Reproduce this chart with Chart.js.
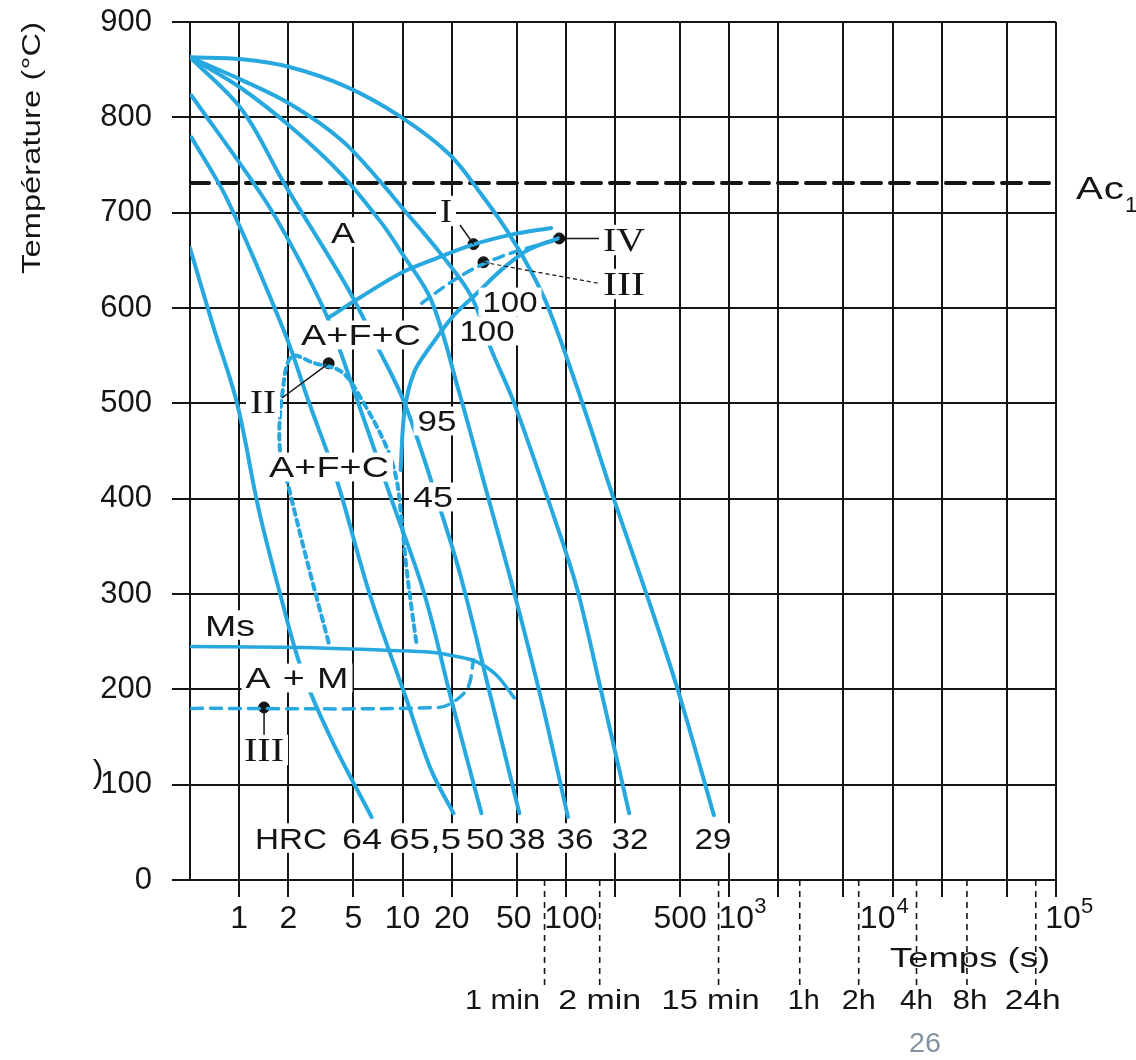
<!DOCTYPE html>
<html>
<head>
<meta charset="utf-8">
<title>Diagramme TRC</title>
<script src="https://cdn.jsdelivr.net/npm/chart.js@4.4.1/dist/chart.umd.min.js"></script>
<style>
  html, body { margin: 0; padding: 0; background: #fff; }
  canvas { display: block; }
</style>
</head>
<body>
<canvas id="trcChart" width="1136" height="1060"></canvas>
<script>
// Diagramme TRC - courbes de refroidissement, temps (s) en échelle log

const BLUE = '#27a8df';
const INK = '#151515';
const SANS = '"Liberation Sans", Arial, sans-serif';
const SERIF = '"Liberation Serif", "Times New Roman", serif';

// lignes verticales de la grille (s)
const timeGrid = [1, 2, 5, 10, 20, 50, 100, 200, 500, 1000, 2000, 5000, 1e4, 2e4, 5e4, 1e5];
// graduations étiquetées
const timeTickValues = [1, 2, 5, 10, 20, 50, 100, 500, 1000, 1e4, 1e5];
const timeTickNames = ['1', '2', '5', '10', '20', '50', '100', '500', '10^3', '10^4', '10^5'];

// repères de durée sous l'axe (position, en s)
const durationValues = [74, 161, 860, 2700, 6200, 14000, 28500, 75200];
const durationNames = ['1 min', '2 min', '15 min', '1h', '2h', '4h', '8h', '24h'];

// courbes de refroidissement [temps (s), température (°C)]
const curveHRC64 = [[0.5, 663], [0.69, 582], [0.97, 500], [1.32, 388], [1.82, 294], [2.42, 220], [3.68, 147], [6.47, 66]];
const curveHRC655 = [[0.51, 779], [0.85, 713], [1.9, 574], [2.7, 499], [3.95, 420], [6.29, 300], [10.6, 189], [15.0, 115], [20.5, 70]];
const curveHRC50 = [[0.51, 823], [1.44, 713], [2.42, 645], [3.53, 587], [5.39, 499], [8.57, 399], [13.6, 300], [19.9, 189], [30.4, 70]];
const curveHRC38 = [[0.5, 863], [1.04, 808], [1.88, 731], [4.68, 619], [6.94, 561], [10.3, 500], [17.3, 385], [23.0, 315], [35.0, 189], [51.9, 70]];
const curveHRC36 = [[0.5, 863], [1.04, 830], [2.1, 789], [4.24, 740], [7.45, 689], [9.86, 658], [15.0, 608], [22.0, 514], [32.6, 408], [48.3, 301], [70.7, 189], [103, 66]];
const curveHRC32 = [[0.5, 863], [1.04, 839], [2.1, 813], [4.24, 776], [7.45, 731], [9.86, 706], [17.3, 656], [26.4, 612], [35.0, 556], [48.3, 500], [97.7, 349], [119, 301], [164, 199], [244, 70]];
const curveHRC29 = [[0.5, 863], [1.04, 861], [2.01, 853], [4.55, 832], [9.86, 800], [19.4, 761], [30.4, 719], [44.4, 679], [61.4, 638], [79.1, 598], [124, 504], [197, 399], [310, 301], [485, 199], [805, 68]];

const hrcNames = ['HRC', '64', '65,5', '50', '38', '36', '32', '29'];

// lignes de transformation
const msLine = [[0.51, 245], [2.42, 244], [7.77, 241], [15.0, 239], [20.8, 235], [28.3, 229], [37.5, 215], [48.3, 191]];
const mfLine = [[0.51, 180], [16.6, 181], [21.4, 189], [25.3, 203], [27.2, 231]];
const startLine = [[3.53, 590], [5.62, 612], [9.86, 637], [16.1, 652], [26.4, 666], [46.4, 677], [81.3, 684]];
const finishLine = [[9.73, 430], [10.3, 493], [11.8, 533], [15.0, 561], [20.8, 593], [29.2, 617], [40.3, 640], [58.9, 661], [89.8, 673]];
const dashedLine = [[13.1, 605], [18.6, 624], [26.4, 640], [40.3, 654], [61.4, 664], [87.3, 671]];
const noseLine = [[3.53, 249], [2.59, 336], [2.01, 412], [1.77, 454], [1.85, 514], [2.1, 549], [2.9, 542], [4.24, 533], [5.62, 504], [7.99, 454], [9.19, 420], [9.86, 378], [10.6, 325], [11.4, 283], [12.2, 247]];
const ac1Temp = 731;

// points repérés I, IV, III, II, III
const markNames = ['I', 'IV', 'III', 'II', 'III'];
const markPoints = [[27.2, 667], [91, 673], [31.3, 648], [3.53, 542], [1.42, 181]];

const pts = arr => arr.map(([x, y]) => ({ x, y }));

function fitText(ctx, text, cx, cy, o) {
    const size = o.size;
    ctx.save();
    ctx.font = size + 'px ' + (o.serif ? SERIF : SANS);
    const w0 = ctx.measureText(text).width;
    const target = o.width || w0;
    const s = Math.min(target / w0, 1.3);
    const gap = text.length > 1 ? Math.max(0, (target - w0 * s) / (text.length - 1)) : 0;
    const capH = size * (o.serif ? 0.66 : 0.72);
    const left = cx - target / 2;
    if (o.bg) {
        ctx.fillStyle = '#fff';
        ctx.fillRect(left - 4, cy - capH / 2 - 4, target + 8, capH + 8);
    }
    ctx.translate(left, cy + capH / 2);
    ctx.scale(s, 1);
    if (gap > 0) ctx.letterSpacing = (gap / s) + 'px';
    ctx.fillStyle = o.color || INK;
    ctx.textAlign = 'left';
    ctx.textBaseline = 'alphabetic';
    ctx.fillText(text, 0, 0);
    ctx.letterSpacing = '0px';
    ctx.restore();
}

// étiquettes dans le diagramme (mise en page, px)
const regionLabels = [
    { t: 'A', x: 343, y: 232, size: 30, width: 24 },
    { t: 'A+F+C', x: 361, y: 335, size: 29, width: 120 },
    { t: 'A+F+C', x: 329, y: 467, size: 29, width: 120 },
    { t: '95', x: 437, y: 421, size: 29, width: 39 },
    { t: '45', x: 433, y: 497, size: 29, width: 40 },
    { t: '100', x: 510, y: 302, size: 29, width: 55 },
    { t: '100', x: 487, y: 331, size: 29, width: 55 },
    { t: 'Ms', x: 230, y: 625, size: 30, width: 50 },
    { t: 'A + M', x: 297, y: 678, size: 29, width: 103 }
];
const markLabelPos = [[446, 211, 12], [624, 240, 42], [624, 284, 42], [263, 402, 26], [264, 750, 40]];
const hrcPos = [[291, 72], [362, 40], [425, 72], [485, 38], [527, 37], [575, 37], [630, 37], [713, 37]];
const tickShift = { 50: -3, 100: 5, 1000: [7, 31], 10000: [-15, 10], 100000: [7, 31] };
const durationShift = [-42, 0, -8, 4, 0, 0, 3, -3];
const durationWidth = [75, 83, 98, 32, 34, 33, 35, 56];

const annotations = {
    id: 'annotations',
    afterDatasetsDraw(chart) {
        const { ctx, chartArea, scales: { x, y } } = chart;
        const px = p => [x.getPixelForValue(p[0]), y.getPixelForValue(p[1])];

        // traits de rappel vers les points
        ctx.save();
        ctx.strokeStyle = INK;
        ctx.lineWidth = 1.5;
        const [iX, iY] = px(markPoints[0]);
        const [ivX, ivY] = px(markPoints[1]);
        const [iiiX, iiiY] = px(markPoints[2]);
        const [iiX, iiY] = px(markPoints[3]);
        const [lowX, lowY] = px(markPoints[4]);
        ctx.beginPath();
        ctx.moveTo(460, 225); ctx.lineTo(iX, iY);
        ctx.moveTo(ivX, ivY); ctx.lineTo(604, ivY);
        ctx.moveTo(282, 398); ctx.lineTo(iiX, iiY);
        ctx.moveTo(lowX, lowY); ctx.lineTo(lowX, 736);
        ctx.stroke();
        ctx.lineWidth = 1.2;
        ctx.setLineDash([4, 3]);
        ctx.beginPath();
        ctx.moveTo(iiiX, iiiY); ctx.lineTo(602, 284);
        ctx.stroke();
        ctx.restore();

        regionLabels.forEach(l => fitText(ctx, l.t, l.x, l.y, { size: l.size, width: l.width, bg: true }));
        markNames.forEach((n, i) => {
            const [lx, ly, lw] = markLabelPos[i];
            fitText(ctx, n, lx, ly, { size: 34, width: lw, serif: true, bg: true });
        });
        hrcNames.forEach((n, i) => fitText(ctx, n, hrcPos[i][0], 838, { size: 30, width: hrcPos[i][1], bg: true }));

        // Ac1
        fitText(ctx, 'Ac', 1100, 188, { size: 31, width: 48 });
        fitText(ctx, '1', 1131, 204, { size: 22 });

        // graduations de l'axe des temps
        timeTickValues.forEach((v, i) => {
            const gx = x.getPixelForValue(v);
            const name = timeTickNames[i];
            const sh = tickShift[v];
            if (name.includes('^')) {
                const [base, exp] = name.split('^');
                fitText(ctx, base, gx + sh[0], 916, { size: 32 });
                fitText(ctx, exp, gx + sh[1], 905, { size: 22 });
            } else {
                fitText(ctx, name, gx + (sh || 0), 916, { size: 32 });
            }
        });

        // repères de durée
        ctx.save();
        ctx.strokeStyle = INK;
        ctx.lineWidth = 1.6;
        ctx.setLineDash([6, 5]);
        durationValues.forEach(v => {
            const gx = x.getPixelForValue(v);
            ctx.beginPath();
            ctx.moveTo(gx, chartArea.bottom);
            ctx.lineTo(gx, 985);
            ctx.stroke();
        });
        ctx.restore();
        durationValues.forEach((v, i) => {
            const gx = x.getPixelForValue(v);
            fitText(ctx, durationNames[i], gx + durationShift[i], 999, { size: 27, width: durationWidth[i] });
        });
        fitText(ctx, 'Temps (s)', 970, 957, { size: 28, width: 160 });

        // titre de l'axe des températures
        ctx.save();
        ctx.translate(31, 148);
        ctx.rotate(-Math.PI / 2);
        fitText(ctx, 'Température (°C)', 0, 0, { size: 25, width: 252 });
        ctx.restore();

        fitText(ctx, ')', 98, 770, { size: 32 });
        fitText(ctx, '26', 925, 1042, { size: 27, width: 32, color: '#8393a3' });
    }
};

const blueLine = (data, extra) => Object.assign({
    data: pts(data),
    borderColor: BLUE,
    borderWidth: 4,
    fill: false,
    pointRadius: 0
}, extra || {});

// annule la marge que Chart.js ajoute pour les étiquettes d'extrémité
const noEdgePadding = scale => {
    scale.paddingTop = 0;
    scale.paddingBottom = 0;
    scale.paddingLeft = 0;
    scale.paddingRight = 0;
};

document.addEventListener('DOMContentLoaded', function () {
    const ctx = document.getElementById('trcChart');

    new Chart(ctx, {
        type: 'line',
        data: {
            datasets: [
                blueLine(curveHRC64),
                blueLine(curveHRC655),
                blueLine(curveHRC50),
                blueLine(curveHRC38),
                blueLine(curveHRC36),
                blueLine(curveHRC32),
                blueLine(curveHRC29),
                blueLine(msLine, { borderWidth: 3.5 }),
                blueLine(mfLine, { borderWidth: 3.5, borderDash: [11, 8] }),
                blueLine(startLine),
                blueLine(finishLine),
                blueLine(dashedLine, { borderWidth: 3.5, borderDash: [10, 7] }),
                blueLine(noseLine, { borderDash: [6, 5] }),
                {
                    data: [{ x: 0.5, y: ac1Temp }, { x: 1e5, y: ac1Temp }],
                    borderColor: INK,
                    borderWidth: 4,
                    borderDash: [19, 9],
                    tension: 0,
                    pointRadius: 0
                },
                {
                    data: pts(markPoints),
                    showLine: false,
                    pointRadius: 5.5,
                    pointBackgroundColor: INK,
                    pointBorderColor: INK
                }
            ]
        },
        options: {
            responsive: false,
            animation: false,
            devicePixelRatio: 1,
            layout: { padding: { top: 22, right: 80, left: 0, bottom: 0 } },
            elements: { line: { tension: 0.35, borderCapStyle: 'round' } },
            plugins: {
                legend: { display: false },
                tooltip: { enabled: false }
            },
            scales: {
                x: {
                    type: 'logarithmic',
                    min: 0.5,
                    max: 1e5,
                    afterBuildTicks: scale => { scale.ticks = timeGrid.map(v => ({ value: v })); },
                    afterFit: scale => { scale.height = 180; noEdgePadding(scale); },
                    grid: { color: INK, lineWidth: 2, tickLength: 17 },
                    border: { color: INK, width: 2 },
                    ticks: { autoSkip: false, maxRotation: 0, callback: () => '' }
                },
                y: {
                    min: 0,
                    max: 900,
                    afterFit: scale => { scale.width = 190; noEdgePadding(scale); },
                    grid: { color: INK, lineWidth: 2, tickLength: 18 },
                    border: { color: INK, width: 2 },
                    ticks: {
                        stepSize: 100,
                        padding: 20,
                        color: INK,
                        font: { family: SANS, size: 31 }
                    }
                }
            }
        },
        plugins: [annotations]
    });
});
</script>
</body>
</html>
